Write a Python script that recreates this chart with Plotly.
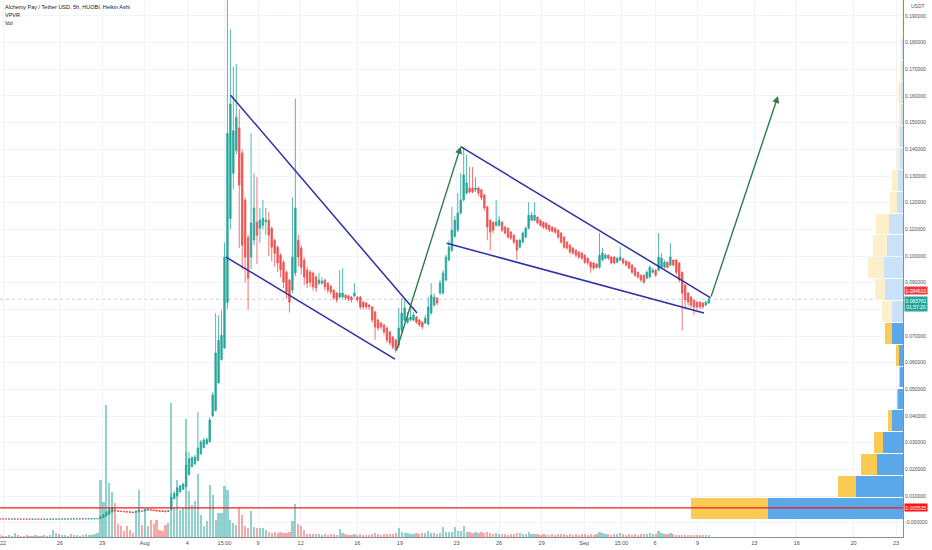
import pandas as pd
import plotly.graph_objects as go

# 5h Heikin Ashi bars, ALCH/USDT (Huobi)
bar_start = "2021-07-21 19:00"
bar_count = 241

opens = [
    0.00143, 0.00142, 0.00140, 0.00141, 0.00139, 0.00138, 0.00139, 0.00137, 0.00136, 0.00137,
    0.00135, 0.00134, 0.00135, 0.00133, 0.00132, 0.00133, 0.00131, 0.00132, 0.00134, 0.00136,
    0.00138, 0.00137, 0.00139, 0.00140, 0.00141, 0.00140, 0.00142, 0.00143, 0.00144, 0.00143,
    0.00145, 0.00146, 0.00147, 0.00148, 0.0015, 0.0019, 0.0025, 0.0032, 0.0040, 0.0047,
    0.0045, 0.0044, 0.0043, 0.0042, 0.0041, 0.0040, 0.0039, 0.0040, 0.0044, 0.0044,
    0.0047, 0.0049, 0.0048, 0.0047, 0.0046, 0.0045, 0.0044, 0.0042, 0.0050, 0.0090,
    0.0100, 0.0115, 0.0125, 0.0135, 0.0180, 0.0210, 0.0220, 0.0233, 0.0258, 0.0281,
    0.0295, 0.0303, 0.0400, 0.0420, 0.0524, 0.0611, 0.0655, 0.0826, 0.1140, 0.1310,
    0.1395, 0.1480, 0.1386, 0.1210, 0.1070, 0.0996, 0.1060, 0.1127, 0.1105, 0.1115,
    0.1128, 0.1134, 0.1104, 0.1059, 0.1033, 0.1003, 0.0977, 0.0939, 0.0909, 0.0872,
    0.0936, 0.1059, 0.1029, 0.0984, 0.0947, 0.0940, 0.0936, 0.0921, 0.0898, 0.0898,
    0.0910, 0.0898, 0.0887, 0.0872, 0.0861, 0.0846, 0.0846, 0.0853, 0.0850, 0.0846,
    0.0850, 0.0846, 0.0846, 0.0827, 0.0824, 0.0816, 0.0809, 0.0790, 0.0760, 0.0749,
    0.0741, 0.0730, 0.0715, 0.0696, 0.0685, 0.0666, 0.0722, 0.0760, 0.0752, 0.0760,
    0.0760, 0.0771, 0.0760, 0.0752, 0.0749, 0.0745, 0.0786, 0.0816, 0.0842, 0.0861,
    0.0861, 0.0910, 0.0985, 0.1022, 0.1074, 0.1097, 0.1161, 0.1210, 0.1236, 0.1255,
    0.1255, 0.1248, 0.1255, 0.1248, 0.1229, 0.1184, 0.1134, 0.1127, 0.1115, 0.1115,
    0.1127, 0.1109, 0.1104, 0.1090, 0.1078, 0.1059, 0.1033, 0.1052, 0.1071, 0.1104,
    0.1134, 0.1134, 0.1146, 0.1134, 0.1127, 0.1123, 0.1115, 0.1108, 0.1104, 0.1097,
    0.1086, 0.1071, 0.1052, 0.1041, 0.1030, 0.1022, 0.1015, 0.1011, 0.1003, 0.0992,
    0.0977, 0.0974, 0.0970, 0.0958, 0.0985, 0.0992, 0.1003, 0.0996, 0.0996, 0.0977,
    0.0985, 0.0989, 0.0981, 0.0977, 0.0966, 0.0955, 0.0939, 0.0928, 0.0928, 0.0917,
    0.0921, 0.0939, 0.0947, 0.0947, 0.0958, 0.0958, 0.0977, 0.0966, 0.0985, 0.0985,
    0.0974, 0.0939, 0.0891, 0.0861, 0.0846, 0.0835, 0.0827, 0.0827, 0.0824, 0.0816,
    0.0824,
]

highs = [
    0.00145, 0.00144, 0.00143, 0.00142, 0.00141, 0.00141, 0.00140, 0.00139, 0.00139, 0.00138,
    0.00137, 0.00137, 0.00136, 0.00135, 0.00135, 0.00134, 0.00134, 0.00136, 0.00138, 0.00140,
    0.00139, 0.00141, 0.00142, 0.00143, 0.00142, 0.00144, 0.00145, 0.00146, 0.00145, 0.00147,
    0.00148, 0.00149, 0.00150, 0.00152, 0.0024, 0.0033, 0.0045, 0.0055, 0.0060, 0.0049,
    0.0046, 0.0045, 0.0044, 0.0043, 0.0042, 0.0041, 0.0044, 0.0050, 0.0046, 0.0052,
    0.0053, 0.0050, 0.0049, 0.0048, 0.0047, 0.0046, 0.0045, 0.0047, 0.0110, 0.0118,
    0.0135, 0.0142, 0.0150, 0.0265, 0.0265, 0.0250, 0.0255, 0.0416, 0.0310, 0.0318,
    0.0320, 0.0395, 0.0490, 0.0786, 0.0778, 0.0797, 0.1050, 0.1960, 0.1850, 0.1710,
    0.1720, 0.1550, 0.1400, 0.1220, 0.1080, 0.1460, 0.1310, 0.1296, 0.1180, 0.1210,
    0.1180, 0.1165, 0.1110, 0.1065, 0.1040, 0.1010, 0.0985, 0.0945, 0.0915, 0.1220,
    0.1590, 0.1080, 0.1040, 0.0995, 0.0960, 0.0948, 0.0942, 0.0928, 0.0936, 0.0920,
    0.0915, 0.0902, 0.0892, 0.0876, 0.0865, 0.0947, 0.0954, 0.0858, 0.0855, 0.0850,
    0.0898, 0.0850, 0.0850, 0.0832, 0.0828, 0.0820, 0.0812, 0.0795, 0.0765, 0.0752,
    0.0745, 0.0735, 0.0720, 0.0700, 0.0690, 0.0805, 0.0842, 0.0835, 0.0790, 0.0809,
    0.0790, 0.0775, 0.0764, 0.0755, 0.0780, 0.0846, 0.0898, 0.0860, 0.0846, 0.0910,
    0.0947, 0.1005, 0.1059, 0.1184, 0.1150, 0.1236, 0.1311, 0.1409, 0.1379, 0.1334,
    0.1334, 0.1296, 0.1260, 0.1252, 0.1233, 0.1188, 0.1138, 0.1130, 0.1210, 0.1150,
    0.1130, 0.1112, 0.1107, 0.1093, 0.1081, 0.1062, 0.1065, 0.1092, 0.1110, 0.1202,
    0.1165, 0.1202, 0.1149, 0.1137, 0.1130, 0.1126, 0.1118, 0.1111, 0.1107, 0.1100,
    0.1089, 0.1074, 0.1055, 0.1044, 0.1033, 0.1025, 0.1018, 0.1014, 0.1006, 0.0995,
    0.0980, 0.0977, 0.0973, 0.1086, 0.1030, 0.1010, 0.1006, 0.0999, 0.0999, 0.0995,
    0.1033, 0.0992, 0.0984, 0.0980, 0.0969, 0.0958, 0.0942, 0.0931, 0.0931, 0.0945,
    0.0965, 0.0955, 0.0950, 0.1086, 0.1010, 0.0985, 0.0980, 0.1048, 0.0988, 0.0988,
    0.0977, 0.0942, 0.0894, 0.0864, 0.0849, 0.0838, 0.0830, 0.0830, 0.0827, 0.0832,
    0.0842,
]

lows = [
    0.00139, 0.00138, 0.00138, 0.00137, 0.00136, 0.00136, 0.00135, 0.00134, 0.00134, 0.00133,
    0.00132, 0.00132, 0.00131, 0.00130, 0.00130, 0.00129, 0.00129, 0.00130, 0.00132, 0.00134,
    0.00135, 0.00135, 0.00137, 0.00138, 0.00138, 0.00138, 0.00140, 0.00141, 0.00141, 0.00141,
    0.00143, 0.00144, 0.00145, 0.00146, 0.0014, 0.0018, 0.0024, 0.0031, 0.0039, 0.0043,
    0.0042, 0.0041, 0.0040, 0.0039, 0.0038, 0.0037, 0.0038, 0.0039, 0.0042, 0.0043,
    0.0046, 0.0046, 0.0044, 0.0043, 0.0042, 0.0041, 0.0040, 0.0041, 0.0045, 0.0088,
    0.0098, 0.0113, 0.0123, 0.0133, 0.0178, 0.0208, 0.0218, 0.0231, 0.0256, 0.0279,
    0.0293, 0.0301, 0.0398, 0.0418, 0.0522, 0.0609, 0.0653, 0.0800, 0.1100, 0.1250,
    0.1380, 0.1030, 0.0950, 0.0900, 0.0798, 0.0950, 0.1040, 0.0970, 0.1050, 0.1100,
    0.1080, 0.1000, 0.0980, 0.0960, 0.0940, 0.0920, 0.0880, 0.0840, 0.0788, 0.0860,
    0.0925, 0.0960, 0.0930, 0.0890, 0.0880, 0.0885, 0.0870, 0.0865, 0.0890, 0.0892,
    0.0870, 0.0860, 0.0855, 0.0835, 0.0825, 0.0840, 0.0840, 0.0835, 0.0830, 0.0825,
    0.0845, 0.0828, 0.0800, 0.0800, 0.0800, 0.0798, 0.0750, 0.0685, 0.0720, 0.0725,
    0.0705, 0.0675, 0.0665, 0.0650, 0.0637, 0.0655, 0.0715, 0.0755, 0.0745, 0.0755,
    0.0755, 0.0745, 0.0735, 0.0725, 0.0745, 0.0740, 0.0780, 0.0810, 0.0815, 0.0855,
    0.0855, 0.0905, 0.0980, 0.1015, 0.1068, 0.1090, 0.1155, 0.1205, 0.1230, 0.1235,
    0.1235, 0.1240, 0.1225, 0.1210, 0.1170, 0.1059, 0.1022, 0.1085, 0.1110, 0.1110,
    0.1090, 0.1080, 0.1065, 0.1060, 0.1045, 0.0985, 0.1028, 0.1048, 0.1066, 0.1100,
    0.1130, 0.1130, 0.1118, 0.1110, 0.1102, 0.1098, 0.1090, 0.1088, 0.1083, 0.1064,
    0.1045, 0.1027, 0.1023, 0.1008, 0.1004, 0.0996, 0.0988, 0.0985, 0.0970, 0.0966,
    0.0937, 0.0948, 0.0952, 0.0952, 0.0980, 0.0988, 0.0985, 0.0968, 0.0968, 0.0972,
    0.0980, 0.0968, 0.0960, 0.0950, 0.0933, 0.0922, 0.0915, 0.0903, 0.0895, 0.0912,
    0.0916, 0.0935, 0.0922, 0.0942, 0.0953, 0.0953, 0.0953, 0.0961, 0.0960, 0.0930,
    0.0900, 0.0722, 0.0800, 0.0812, 0.0805, 0.0779, 0.0798, 0.0800, 0.0802, 0.0812,
    0.0820,
]

closes = [
    0.00142, 0.00140, 0.00141, 0.00139, 0.00138, 0.00139, 0.00137, 0.00136, 0.00137, 0.00135,
    0.00134, 0.00135, 0.00133, 0.00132, 0.00133, 0.00131, 0.00132, 0.00134, 0.00136, 0.00138,
    0.00137, 0.00139, 0.00140, 0.00141, 0.00140, 0.00142, 0.00143, 0.00144, 0.00143, 0.00145,
    0.00146, 0.00147, 0.00148, 0.00150, 0.0022, 0.0030, 0.0040, 0.0048, 0.0054, 0.0044,
    0.0043, 0.0042, 0.0041, 0.0040, 0.0039, 0.0038, 0.0042, 0.0047, 0.0043, 0.0050,
    0.0051, 0.0047, 0.0045, 0.0044, 0.0043, 0.0042, 0.0041, 0.0045, 0.0096, 0.0110,
    0.0130, 0.0138, 0.0145, 0.0216, 0.0240, 0.0243, 0.0246, 0.0280, 0.0303, 0.0310,
    0.0312, 0.0385, 0.0479, 0.0636, 0.0684, 0.0703, 0.0996, 0.1460, 0.1570, 0.1470,
    0.1520, 0.1266, 0.1040, 0.0996, 0.0917, 0.1124, 0.1180, 0.1078, 0.1135, 0.1142,
    0.1135, 0.1078, 0.1033, 0.1010, 0.0974, 0.0948, 0.0902, 0.0865, 0.0827, 0.0996,
    0.1180, 0.0996, 0.0958, 0.0921, 0.0898, 0.0902, 0.0884, 0.0880, 0.0910, 0.0906,
    0.0884, 0.0872, 0.0865, 0.0843, 0.0835, 0.0861, 0.0861, 0.0843, 0.0839, 0.0835,
    0.0861, 0.0835, 0.0809, 0.0809, 0.0809, 0.0809, 0.0760, 0.0734, 0.0730, 0.0734,
    0.0715, 0.0685, 0.0674, 0.0659, 0.0648, 0.0730, 0.0786, 0.0805, 0.0767, 0.0771,
    0.0779, 0.0752, 0.0741, 0.0734, 0.0767, 0.0809, 0.0853, 0.0846, 0.0824, 0.0898,
    0.0936, 0.0996, 0.1033, 0.1097, 0.1134, 0.1161, 0.1210, 0.1304, 0.1274, 0.1240,
    0.1240, 0.1255, 0.1236, 0.1218, 0.1180, 0.1109, 0.1090, 0.1097, 0.1127, 0.1134,
    0.1097, 0.1086, 0.1071, 0.1067, 0.1052, 0.1022, 0.1059, 0.1086, 0.1104, 0.1153,
    0.1153, 0.1153, 0.1124, 0.1115, 0.1108, 0.1104, 0.1097, 0.1093, 0.1089, 0.1071,
    0.1052, 0.1033, 0.1030, 0.1015, 0.1011, 0.1003, 0.0996, 0.0992, 0.0977, 0.0974,
    0.0958, 0.0955, 0.0958, 0.1003, 0.1011, 0.1003, 0.0992, 0.0974, 0.0974, 0.0992,
    0.0996, 0.0974, 0.0966, 0.0955, 0.0939, 0.0928, 0.0921, 0.0910, 0.0902, 0.0939,
    0.0958, 0.0947, 0.0928, 0.0996, 0.0992, 0.0977, 0.0958, 0.0996, 0.0966, 0.0939,
    0.0910, 0.0861, 0.0835, 0.0827, 0.0816, 0.0809, 0.0809, 0.0809, 0.0809, 0.0827,
    0.0838,
]

# volume per bar (x100k ALCH)
volumes = [
    2, 1, 1, 2, 1, 4, 2, 1, 1, 2,
    1, 1, 2, 1, 1, 2, 1, 2, 7, 4,
    3, 2, 2, 1, 3, 2, 2, 1, 2, 3,
    2, 2, 3, 4, 57, 35, 132, 54, 45, 34,
    13, 11, 6, 11, 7, 4, 27, 47, 12, 26,
    11, 17, 13, 17, 7, 6, 12, 14, 134, 29,
    57, 27, 29, 118, 46, 32, 36, 63, 22, 11,
    16, 52, 42, 17, 24, 24, 51, 47, 17, 14,
    12, 29, 22, 11, 9, 26, 10, 9, 9, 9,
    7, 5, 4, 5, 4, 5, 4, 4, 5, 16,
    33, 13, 11, 7, 3, 3, 3, 3, 3, 2,
    3, 2, 3, 3, 2, 8, 4, 3, 2, 2,
    3, 2, 3, 2, 2, 2, 3, 4, 3, 2,
    3, 3, 3, 3, 4, 9, 5, 4, 4, 3,
    3, 4, 3, 4, 4, 6, 4, 4, 3, 4,
    10, 5, 5, 5, 10, 6, 6, 11, 5, 5,
    4, 5, 4, 5, 4, 5, 4, 3, 4, 3,
    3, 3, 2, 3, 3, 4, 4, 3, 3, 5,
    3, 3, 3, 2, 3, 2, 2, 3, 2, 3,
    3, 3, 2, 3, 2, 3, 2, 3, 3, 2,
    3, 2, 3, 5, 4, 3, 3, 2, 3, 3,
    4, 3, 2, 3, 2, 3, 2, 3, 3, 3,
    4, 3, 3, 6, 4, 3, 3, 4, 3, 2,
    2, 2, 2, 2, 2, 2, 2, 2, 2, 2,
    2,
]

# visible range volume profile (VPVR), 24 rows
vp_mid = [0.0054, 0.0136, 0.0218, 0.0300, 0.0382, 0.0464, 0.0546, 0.0628, 0.0710, 0.0792,
          0.0874, 0.0956, 0.1038, 0.1120, 0.1202, 0.1284, 0.1366, 0.1448, 0.1530, 0.1612,
          0.1694, 0.1776, 0.1858, 0.1940]
vp_up = [135, 47, 26, 20, 11, 5, 3, 4, 11, 11, 18, 19, 16, 14, 6, 5, 3, 3, 2, 2, 1.5, 1, 0.7, 0.5]
vp_down = [77, 18, 16, 9, 4, 1, 0.5, 3, 7, 10, 10, 16, 14, 13, 7, 6, 3, 2, 2, 3, 1, 0.5, 0.3, 0.2]
value_area_high = 0.0751

last_price = 0.083761
prev_label = 0.084610
hline_price = 0.005535

# drawings: trend lines (start, end)
channel_top = (["2021-08-07 01:30", "2021-08-20 05:00"], [0.1603, 0.0786])
channel_bottom = (["2021-08-06 17:34", "2021-08-18 15:42"], [0.0996, 0.0613])
wedge_top = (["2021-08-23 06:56", "2021-09-09 22:12"], [0.1410, 0.0843])
wedge_bottom = (["2021-08-22 07:15", "2021-09-09 10:52"], [0.1048, 0.0786])
arrow_up_1 = (["2021-08-18 17:24", "2021-08-23 06:56"], [0.0640, 0.1410])
arrow_up_2 = (["2021-09-09 22:12", "2021-09-14 16:10"], [0.0843, 0.1600])

x_tick_dates = ["2021-07-22", "2021-07-26", "2021-07-29", "2021-08-01", "2021-08-04",
                "2021-08-06 15:00", "2021-08-09", "2021-08-12", "2021-08-16", "2021-08-19",
                "2021-08-23", "2021-08-26", "2021-08-29", "2021-09-01", "2021-09-03 15:00",
                "2021-09-06", "2021-09-09", "2021-09-13", "2021-09-16", "2021-09-20", "2021-09-23"]
x_tick_text = ["22", "26", "29", "Aug", "4", "15:00", "9", "12", "16", "19", "23",
               "26", "29", "Sep", "15:00", "6", "9", "13", "16", "20", "23"]
y_tick_vals = [0.0, 0.01, 0.02, 0.03, 0.04, 0.05, 0.06, 0.07, 0.08, 0.09, 0.10,
               0.11, 0.12, 0.13, 0.14, 0.15, 0.16, 0.17, 0.18, 0.19]
y_tick_text = ["-0.000000"] + ["%.6f" % v for v in y_tick_vals[1:]]

UP = "#26a69a"
DOWN = "#ef5350"
FONT = "Liberation Sans"

times = pd.date_range(bar_start, periods=bar_count, freq="5h")

fig = go.Figure()

# volume profile on the right
vp_in_area = [m < value_area_high for m in vp_mid]
fig.add_trace(go.Bar(y=vp_mid, x=vp_up, orientation="h", xaxis="x2", yaxis="y",
                     width=0.0078, hoverinfo="skip", showlegend=False,
                     marker=dict(color=["#5aa7e9" if a else "#c9e2f8" for a in vp_in_area], line_width=0)))
fig.add_trace(go.Bar(y=vp_mid, x=vp_down, base=vp_up, orientation="h", xaxis="x2", yaxis="y",
                     width=0.0078, hoverinfo="skip", showlegend=False,
                     marker=dict(color=["#f9cb55" if a else "#fdefc9" for a in vp_in_area], line_width=0)))

# volume bars
vol_colors = ["rgba(38,166,154,0.5)" if c >= o else "rgba(239,83,80,0.5)" for o, c in zip(opens, closes)]
fig.add_trace(go.Bar(x=times, y=volumes, yaxis="y3", width=5 * 3600 * 1000 * 0.75,
                     marker=dict(color=vol_colors, line_width=0),
                     hoverinfo="skip", showlegend=False))

fig.add_trace(go.Candlestick(
    x=times, open=opens, high=highs, low=lows, close=closes,
    increasing=dict(line=dict(color=UP, width=0.8), fillcolor=UP),
    decreasing=dict(line=dict(color=DOWN, width=0.8), fillcolor=DOWN),
    whiskerwidth=0, showlegend=False, hoverinfo="skip"))

shapes = [
    dict(type="line", xref="paper", x0=0, x1=1, yref="y", y0=hline_price, y1=hline_price,
         line=dict(color="#f21d1d", width=1.2), layer="above"),
    dict(type="line", xref="paper", x0=0, x1=1, yref="y", y0=last_price, y1=last_price,
         line=dict(color="rgba(120,123,134,0.35)", width=1, dash="dot"), layer="below"),
]
for xs, ys in [channel_top, channel_bottom, wedge_top, wedge_bottom]:
    shapes.append(dict(type="line", xref="x", yref="y", x0=xs[0], x1=xs[1], y0=ys[0], y1=ys[1],
                       line=dict(color="#2e30a3", width=1.5), layer="above"))

annotations = []
for xs, ys in [arrow_up_1, arrow_up_2]:
    annotations.append(dict(x=xs[1], y=ys[1], ax=xs[0], ay=ys[0], xref="x", yref="y",
                            axref="x", ayref="y", text="", showarrow=True,
                            arrowhead=2, arrowsize=1, arrowwidth=1.4, arrowcolor="#2f7d4a"))

head = ["Alchemy Pay / Tether USD, 5h, HUOBI, Heikin Ashi", "VPVR", "Vol"]
for k, t in enumerate(head):
    annotations.append(dict(xref="paper", yref="paper", x=0.003, y=1 - (7 + 8 * k) / 537,
                            text=t, showarrow=False, xanchor="left", yanchor="middle",
                            font=dict(family=FONT, size=5.5, color="#131722")))
annotations.append(dict(xref="paper", yref="paper", x=1, y=1 - 6 / 537, text="USDT",
                        showarrow=False, xanchor="left", xshift=6, yanchor="middle",
                        font=dict(family=FONT, size=5, color="#555")))
for val, txt, bg in [(0.0872, "%.6f" % prev_label, "#f23645"),
                     (0.0821, "%.6f<br>01:57:20" % last_price, UP),
                     (hline_price, "%.6f" % hline_price, "#ff1414")]:
    annotations.append(dict(xref="paper", yref="y", x=1, y=val, text=txt, showarrow=False,
                            xanchor="left", yanchor="middle", xshift=1, bgcolor=bg, borderpad=0.5,
                            font=dict(family=FONT, size=5, color="white")))

fig.update_layout(
    width=932, height=550,
    margin=dict(l=0, r=29, t=0, b=13),
    paper_bgcolor="white", plot_bgcolor="white",
    barmode="overlay", bargap=0,
    shapes=shapes, annotations=annotations,
    xaxis=dict(type="date", range=["2021-07-21 18:55", "2021-09-23 11:51"],
               rangeslider=dict(visible=False),
               tickvals=x_tick_dates, ticktext=x_tick_text, tickangle=0,
               ticklabeloverflow="allow",
               tickfont=dict(family=FONT, size=5.5, color="#4a4e59"),
               showgrid=True, gridcolor="#f0f3fa", gridwidth=1,
               showline=True, linecolor="#8a8d96", linewidth=1, ticks="", zeroline=False),
    xaxis2=dict(overlaying="x", range=[903, 0], visible=False, anchor="y"),
    yaxis=dict(side="right", range=[-0.00536, 0.19599],
               tickvals=y_tick_vals, ticktext=y_tick_text,
               tickfont=dict(family=FONT, size=5, color="#4a4e59"),
               showgrid=True, gridcolor="#f0f3fa", gridwidth=1,
               showline=True, linecolor="#8a8d96", linewidth=1, ticks="", zeroline=False),
    yaxis3=dict(overlaying="y", range=[0, 537], visible=False),
)

# page body margin would push the 932x550 figure off the window
fig.write_html("out.html", config={"displayModeBar": False},
               post_script="document.body.style.margin='0';")
